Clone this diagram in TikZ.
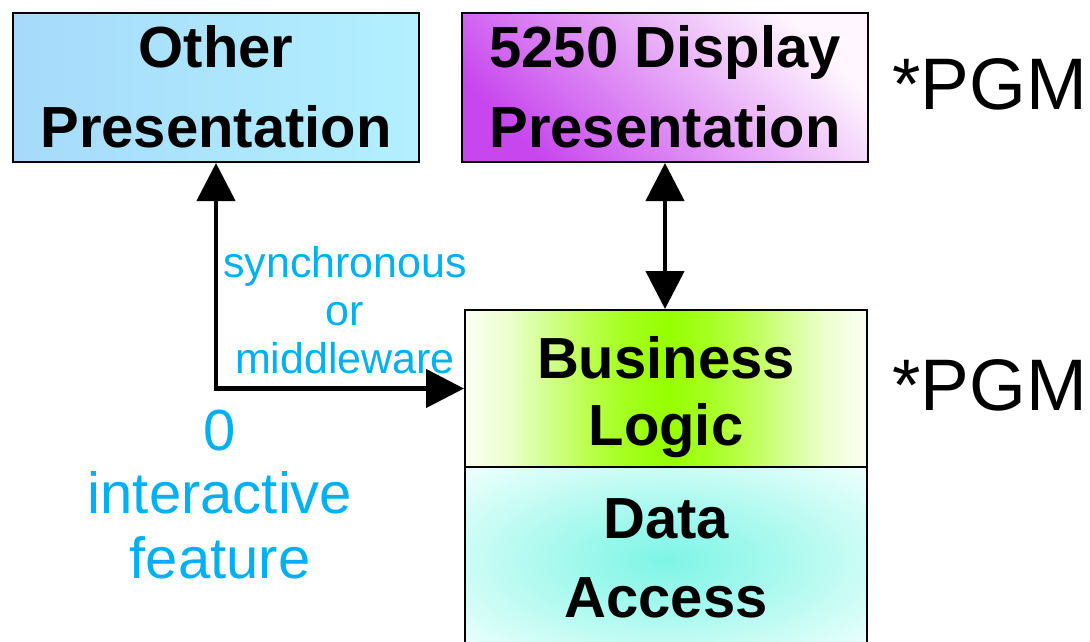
\documentclass[tikz,border=0pt]{standalone}
\usepackage{fontspec}
\setmainfont{Liberation Sans}
\usetikzlibrary{arrows.meta,shadings}
\definecolor{lblue}{RGB}{0,176,240}
\definecolor{otherL}{RGB}{166,218,250}
\definecolor{otherR}{RGB}{178,240,255}
\definecolor{purpleS}{RGB}{200,70,238}
\definecolor{purpleW}{RGB}{255,246,255}
\definecolor{greenC}{RGB}{150,255,0}
\definecolor{greenA}{RGB}{238,255,210}
\definecolor{greenB}{RGB}{212,255,145}
\definecolor{greenD}{RGB}{188,255,80}
\definecolor{greenF}{RGB}{165,255,30}
\definecolor{greenE}{RGB}{250,255,242}
\definecolor{aquaC}{RGB}{125,245,230}
\definecolor{aquaM}{RGB}{178,250,240}
\definecolor{aquaE}{RGB}{234,255,252}
\pgfdeclareradialshading{aquaglow}{\pgfpoint{0bp}{0bp}}{color(0bp)=(aquaC); color(17bp)=(aquaM); color(34bp)=(aquaE); color(50bp)=(aquaE)}
\pgfdeclarehorizontalshading{greenband}{100bp}{color(0bp)=(greenE); color(25bp)=(greenE); color(30bp)=(greenA); color(35bp)=(greenB); color(40bp)=(greenD); color(45bp)=(greenF); color(50bp)=(greenC); color(55bp)=(greenF); color(60bp)=(greenD); color(65bp)=(greenB); color(70bp)=(greenA); color(75bp)=(greenE); color(100bp)=(greenE)}
\tikzset{
  boxframe/.style={draw=black, line width=2pt, inner sep=0pt},
  boxtext/.style={anchor=base, font=\fontsize{58}{58}\selectfont\bfseries, inner sep=0pt},
  pgmtext/.style={anchor=base west, font=\fontsize{73}{73}\selectfont, inner sep=0pt},
  smalllabel/.style={anchor=base, text=lblue, font=\fontsize{43}{43}\selectfont, inner sep=0pt},
  biglabel/.style={anchor=base, text=lblue, font=\fontsize{58}{58}\selectfont, inner sep=0pt},
  conn/.style={line width=4.5pt, {Triangle[length=38pt,width=38pt]}-{Triangle[length=38pt,width=38pt]}}
}
\begin{document}
\begin{tikzpicture}[x=1pt,y=-1pt]
\clip (0,0) rectangle (1090,642);
\fill[white] (0,0) rectangle (1090,642);
% boxes
\node[boxframe, minimum width=406pt, minimum height=149pt, left color=otherL, right color=otherR] (other) at (216,87.5) {};
\node[boxframe, minimum width=406pt, minimum height=149pt, top color=purpleW, bottom color=purpleS, shading angle=-45] (disp) at (665,87.5) {};
\node[boxframe, minimum width=402pt, minimum height=157pt, shading=greenband] (bl) at (666,388.5) {};
\node[boxframe, minimum width=402pt, minimum height=186pt, shading=aquaglow] (da) at (666,560) {};
% connectors
\draw[conn] (other.south) |- (bl.west);
\draw[conn] (disp.south) -- (disp.south |- bl.north);
% box texts
\node[boxtext] (tOther) at (216,68) {Other};
\node[boxtext] (tPres1) at (216,147) {Presentation};
\node[boxtext] (t5250) at (665,68) {5250 Display};
\node[boxtext] (tPres2) at (665,147) {Presentation};
\node[boxtext] (tBus) at (666,378) {Business};
\node[boxtext] (tLogic) at (666,445) {Logic};
\node[boxtext] (tData) at (666,538) {Data};
\node[boxtext] (tAcc) at (666,617) {Access};
% *PGM
\node[pgmtext] (pgm1) at (892,110) {*PGM};
\node[pgmtext] (pgm2) at (892,410) {*PGM};
% labels
\node[smalllabel] (lSync) at (345,277) {synchronous};
\node[smalllabel] (lOr) at (345,325) {or};
\node[smalllabel] (lMid) at (345,373) {middleware};
\node[biglabel] (lZero) at (220,450) {0};
\node[biglabel] (lInt) at (220,513) {interactive};
\node[biglabel] (lFeat) at (220,578) {feature};
\end{tikzpicture}
\end{document}
